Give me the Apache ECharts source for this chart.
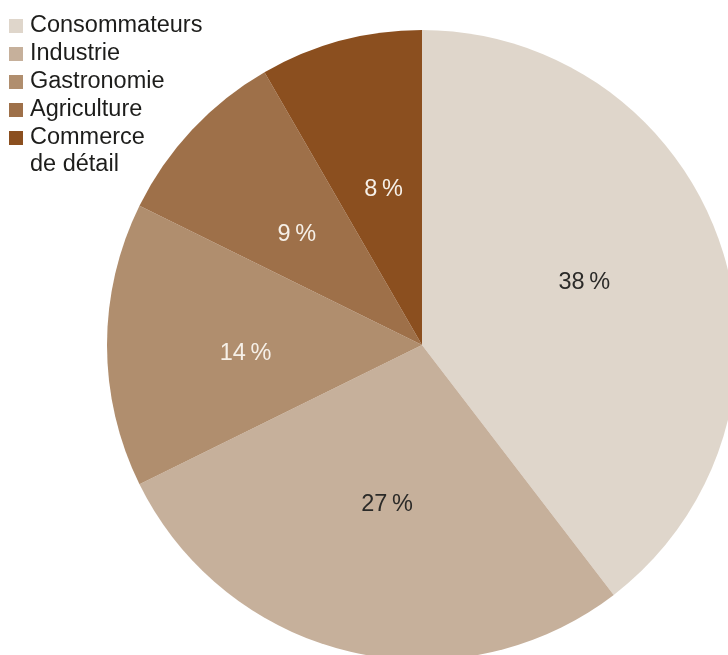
<!DOCTYPE html>
<html>
<head>
<meta charset="utf-8">
<script src="https://cdn.jsdelivr.net/npm/echarts@6/dist/echarts.min.js"></script>
<style>
html,body{margin:0;padding:0;background:#fff;}
#chart{width:728px;height:655px;}
</style>
</head>
<body>
<div id="chart"></div>
<script>
const categories = ['Consommateurs', 'Industrie', 'Gastronomie', 'Agriculture', 'Commerce de détail'];
const legendLabels = [['Consommateurs'], ['Industrie'], ['Gastronomie'], ['Agriculture'], ['Commerce', 'de détail']];
const values = [38, 27, 14, 9, 8];
const colors = ['#dfd6cb', '#c6b09b', '#b08e6e', '#9e7049', '#8b4f1f'];
const labelColors = ['#2b2a28', '#2b2a28', '#f6f0e8', '#f6f0e8', '#f6f0e8'];
// fine placement of the in-slice labels (pixels)
const labelOffsets = [[0, -7], [4, -8], [-5, 9], [0, 7], [6, 10]];

const FONT = '"Liberation Sans", Arial, sans-serif';
const FS = 23.5;
const chart = echarts.init(document.getElementById('chart'));

const mainData = categories.map((c, i) => ({
  name: c, value: values[i], itemStyle: { color: colors[i] }
}));
const labelData = categories.map((c, i) => ({
  name: c, value: values[i],
  label: { color: labelColors[i], offset: labelOffsets[i] }
}));

const rich = {
  t: { fontFamily: FONT, fontSize: FS, color: '#1d1d1b', lineHeight: 28, padding: [0, 0, 0, 7] },
  t2: { fontFamily: FONT, fontSize: FS, color: '#1d1d1b', lineHeight: 25, padding: [0, 0, 0, 21] }
};
colors.forEach((c, i) => {
  rich['sq' + i] = { width: 14, height: 14, backgroundColor: c, fontSize: 1, lineHeight: 14 };
});

chart.setOption({
  animation: false,
  backgroundColor: '#ffffff',
  legend: {
    orient: 'vertical',
    left: 4,
    top: 14,
    padding: 0,
    icon: 'none',
    itemWidth: 0,
    itemHeight: 14,
    itemGap: 4,
    selectedMode: false,
    data: categories,
    formatter: name => {
      const i = categories.indexOf(name);
      const lines = legendLabels[i];
      let s = '{sq' + i + '| }{t|' + lines[0] + '}';
      for (let k = 1; k < lines.length; k++) s += '\n{t2|' + lines[k] + '}';
      return s;
    },
    textStyle: {
      fontFamily: FONT,
      fontSize: FS,
      color: '#1d1d1b',
      rich: rich
    }
  },
  series: [
    {
      type: 'pie',
      center: [422, 345],
      radius: [0, 315],
      startAngle: 90,
      clockwise: true,
      silent: true,
      label: { show: false },
      labelLine: { show: false },
      emphasis: { disabled: true },
      itemStyle: { borderWidth: 0 },
      data: mainData
    },
    {
      type: 'pie',
      center: [422, 345],
      radius: [22, 315],
      startAngle: 90,
      clockwise: true,
      silent: true,
      avoidLabelOverlap: false,
      itemStyle: { color: 'rgba(0,0,0,0)', borderWidth: 0 },
      emphasis: { disabled: true },
      labelLine: { show: false },
      label: {
        show: true,
        position: 'inside',
        fontFamily: FONT,
        fontSize: FS,
        formatter: p => p.value + '\u2009%'
      },
      data: labelData
    }
  ]
});
</script>
</body>
</html>
